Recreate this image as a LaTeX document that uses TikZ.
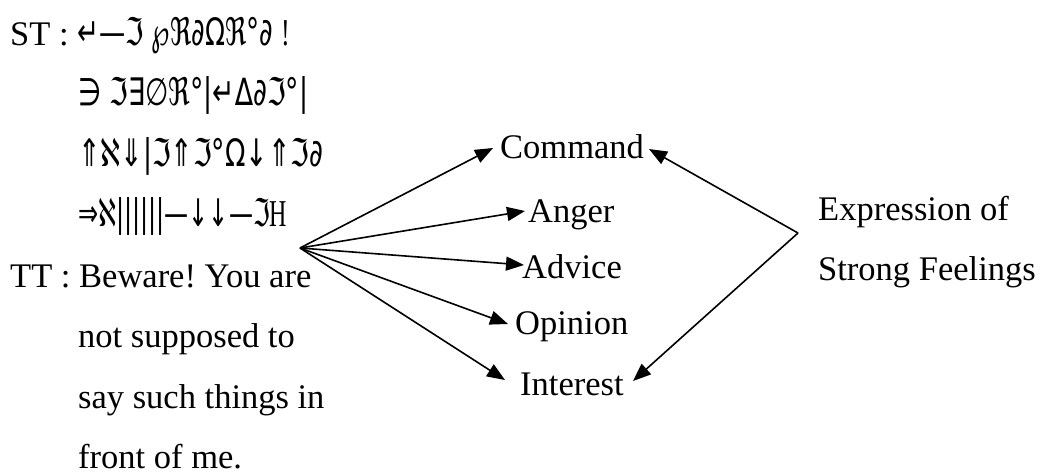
\documentclass[tikz,border=0pt]{standalone}
\usepackage{fontspec}
\usepackage{graphicx}
\setmainfont{Liberation Serif}
\newfontfamily\symf{DejaVu Sans}
\usetikzlibrary{arrows.meta}
\frenchspacing
\begin{document}
\begin{tikzpicture}[x=1pt,y=-1pt,
  txt/.style={inner sep=0pt, anchor=base west, font=\fontsize{34.5}{40}\selectfont\frenchspacing},
  arr/.style={line width=1.6pt, -{Triangle[length=18pt,width=14pt]}}]
\useasboundingbox (0,0) rectangle (1040,475);
% left column
\node[txt] (stlab) at (10,45) {ST :};
\node[txt] (s1) at (77,45) {\resizebox{213pt}{1.1\height}{\symf ↵—ℑ ℘ℜ∂Ωℜ°∂ \rmfamily !}};
\node[txt] (s2) at (78,105.5) {\resizebox{230pt}{1.1\height}{\symf ∋ ℑ∃∅ℜ°|↵∆∂ℑ°|}};
\node[txt] (s3) at (78,166) {\resizebox{245pt}{1.1\height}{\symf ⇑ℵ⇓|ℑ⇑ℑ°Ω↓⇑ℑ∂}};
\node[txt] (s4) at (78,226.5) {\resizebox{209pt}{1.1\height}{\symf ⇒ℵ||||||—↓↓—ℑ\rmfamily H}};
\node[txt] (tt) at (10,287) {TT : Beware! You are};
\node[txt] (t2) at (78,347.5) {not supposed to};
\node[txt] (t3) at (78,408) {say such things in};
\node[txt] (t4) at (78,468.5) {front of me.};
% middle column
\node[txt] (cmd) at (500,158) {Command};
\node[txt] (ang) at (528,222) {Anger};
\node[txt] (adv) at (522,278) {Advice};
\node[txt] (opi) at (515,334) {Opinion};
\node[txt] (int) at (520,395) {Interest};
% right column
\node[txt] (exp) at (818,220) {Expression of};
\node[txt] (str) at (818,280) {Strong Feelings};
% connector points
\coordinate (fan) at (300,248);
\coordinate (tcmd) at (493,148);
\coordinate (tang) at (525,211);
\coordinate (tadv) at (524,265);
\coordinate (topi) at (508,324);
\coordinate (tint) at (505,380);
\coordinate (vtx) at (798,233);
\coordinate (rcmd) at (649,149);
\coordinate (rint) at (633,381);
\draw[arr] (fan) -- (tcmd);
\draw[arr] (fan) -- (tang);
\draw[arr] (fan) -- (tadv);
\draw[arr] (fan) -- (topi);
\draw[arr] (fan) -- (tint);
\draw[arr] (vtx) -- (rcmd);
\draw[arr] (vtx) -- (rint);
\end{tikzpicture}
\end{document}
